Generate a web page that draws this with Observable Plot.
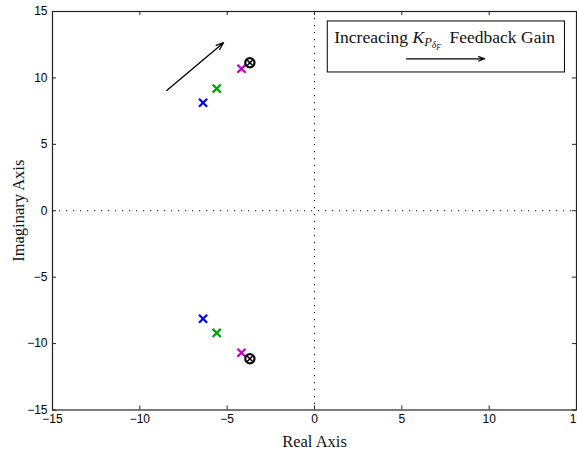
<!DOCTYPE html>
<html>
<head>
<meta charset="utf-8">
<script src="https://cdn.jsdelivr.net/npm/d3@7"></script>
<script src="https://cdn.jsdelivr.net/npm/@observablehq/plot@0.6"></script>
<style>
  html, body { margin: 0; padding: 0; background: #fff; }
  svg { display: block; }
</style>
</head>
<body>
<div id="chart"></div>
<script>
// Pole locations (upper half; lower half are complex conjugates)
const poleNames = ["gain 1", "gain 2", "gain 3", "gain 4"];
const poleColors = ["#0000ff", "#00a000", "#bf00bf", "#000000"];
const realParts = [-6.38, -5.60, -4.18, -3.70];
const imagParts = [8.13, 9.20, 10.69, 11.14];

// Axis ticks
const tickValues = [-15, -10, -5, 0, 5, 10, 15];

// Annotation: direction arrow near the poles
const trendArrow = [{x1: -8.46, y1: 9.06, x2: -5.21, y2: 12.65}];
// Annotation box with text and arrow
const noteBox = [{x1: 0.76, x2: 14.34, y1: 14.25, y2: 10.41}];
const noteText = [{x: 7.45, y: 12.62, label: "Increacing K Feedback Gain"}];
const noteArrow = [{x1: 5.27, y1: 11.44, x2: 9.74, y2: 11.44}];

const poles = [];
poleNames.forEach((n, i) => {
  poles.push({name: n, color: poleColors[i], re: realParts[i], im: imagParts[i]});
  poles.push({name: n, color: poleColors[i], re: realParts[i], im: -imagParts[i]});
});
const crossPoles = poles.filter(d => d.color !== "#000000");
const ringPoles = poles.filter(d => d.color === "#000000");

const W = 577, H = 452;
const mL = 52, mR = 1, mT = 11, mB = 42.5;
const pxX = 30 / (W - mL - mR); // data units per pixel
const pxY = 30 / (H - mT - mB);
const tickLen = 4;

const svg = Plot.plot({
  width: W,
  height: H,
  marginLeft: mL,
  marginRight: mR,
  marginTop: mT,
  marginBottom: mB,
  style: {fontFamily: "Liberation Sans, Arial, sans-serif", fontSize: "12px", background: "#fff", overflow: "visible"},
  x: {domain: [-15, 15]},
  y: {domain: [-15, 15]},
  marks: [
    // dotted axes through origin
    Plot.ruleX([0], {stroke: "#000", strokeWidth: 1, strokeDasharray: "1.2,5.8"}),
    Plot.ruleY([0], {stroke: "#000", strokeWidth: 1, strokeDasharray: "1.2,5.8"}),
    // inward ticks
    Plot.ruleX(tickValues, {y1: -15, y2: -15 + tickLen * pxY, stroke: "#222"}),
    Plot.ruleX(tickValues, {y1: 15, y2: 15 - tickLen * pxY, stroke: "#222"}),
    Plot.ruleY(tickValues, {x1: -15, x2: -15 + tickLen * pxX, stroke: "#222"}),
    Plot.ruleY(tickValues, {x1: 15, x2: 15 - tickLen * pxX, stroke: "#222"}),
    Plot.frame({stroke: "#222", strokeWidth: 1.2}),
    Plot.axisX(tickValues, {
      anchor: "bottom", tickSize: 0, tickPadding: 4, fontSize: 12,
      label: "Real Axis", labelAnchor: "center", labelArrow: "none", labelOffset: 37
    }),
    Plot.axisY(tickValues, {
      anchor: "left", tickSize: 0, tickPadding: 5, fontSize: 12,
      label: "Imaginary Axis", labelAnchor: "center", labelArrow: "none", labelOffset: 40
    }),
    // arrow showing trend
    Plot.arrow(trendArrow, {x1: "x1", y1: "y1", x2: "x2", y2: "y2", stroke: "#000", strokeWidth: 1.3, headLength: 9, headAngle: 40}),
    // poles
    Plot.dot(crossPoles, {x: "re", y: "im", stroke: "color", symbol: "times", r: 3.8, strokeWidth: 2.2}),
    Plot.dot(ringPoles, {x: "re", y: "im", stroke: "#000", symbol: "circle", r: 4.6, strokeWidth: 2.2}),
    Plot.dot(ringPoles, {x: "re", y: "im", stroke: "#000", symbol: "times", r: 2.6, strokeWidth: 1.6}),
    // annotation box
    Plot.rect(noteBox, {x1: "x1", x2: "x2", y1: "y1", y2: "y2", fill: "#fff", stroke: "#000", strokeWidth: 1}),
    Plot.text(noteText, {x: "x", y: "y", text: "label", className: "note-label", lineAnchor: "bottom"}),
    Plot.arrow(noteArrow, {x1: "x1", y1: "y1", x2: "x2", y2: "y2", stroke: "#000", strokeWidth: 1.2, headLength: 8, headAngle: 40})
  ]
});

// Fonts for axis labels (serif like the original)
d3.select(svg).selectAll("g[aria-label='x-axis label'] text, g[aria-label='y-axis label'] text")
  .attr("font-family", "Liberation Serif, 'DejaVu Serif', serif")
  .attr("font-size", "16.5px")
  .attr("fill", "#111");

// Rich text in the annotation box
d3.select(svg).selectAll(".note-label text").each(function() {
  const t = d3.select(this);
  t.text(null)
    .attr("font-family", "Liberation Serif, 'DejaVu Serif', serif")
    .attr("font-size", "17.5px")
    .attr("text-anchor", "middle")
    .attr("fill", "#111");
  t.append("tspan").text("Increacing ");
  t.append("tspan").attr("font-style", "italic").text("K");
  t.append("tspan").attr("font-style", "italic").attr("font-size", "12.5px").attr("dy", "3").text("P");
  t.append("tspan").attr("font-style", "italic").attr("font-size", "9.5px").attr("dy", "2").text("δ");
  t.append("tspan").attr("font-style", "italic").attr("font-size", "7.5px").attr("dy", "1.5").text("F");
  t.append("tspan").attr("dy", "-6.5").text("\u2002Feedback Gain");
});

document.getElementById("chart").appendChild(svg);
</script>
</body>
</html>
